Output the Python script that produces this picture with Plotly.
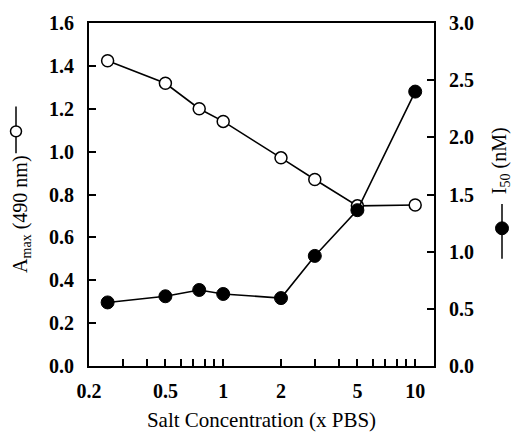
import plotly.graph_objects as go

# Data
salt = [0.25, 0.5, 0.75, 1, 2, 3, 5, 10]
amax = [1.424, 1.319, 1.20, 1.141, 0.971, 0.87, 0.747, 0.751]
i50 = [0.556, 0.61, 0.665, 0.63, 0.594, 0.963, 1.363, 2.40]

x_tickvals = [0.2, 0.3, 0.4, 0.5, 0.6, 0.7, 0.8, 0.9, 1, 2, 3, 4, 5, 6, 7, 8, 9, 10]
x_labels = {0.2: "0.2", 0.5: "0.5", 1: "1", 2: "2", 5: "5", 10: "10"}
x_ticktext = [x_labels.get(v, "") for v in x_tickvals]

W, H = 514, 445
L, R, T, B = 89, 434, 21, 366
FONT = "Liberation Serif"


def px(x):
    return (x - L) / (R - L)


def py(y):
    return (B - y) / (B - T)


fig = go.Figure()
fig.add_trace(go.Scatter(
    x=salt, y=amax, mode="lines+markers",
    line=dict(color="black", width=1.6),
    marker=dict(symbol="circle", size=12, color="white", line=dict(color="black", width=1.5)),
    yaxis="y", showlegend=False))
fig.add_trace(go.Scatter(
    x=salt, y=i50, mode="lines+markers",
    line=dict(color="black", width=1.6),
    marker=dict(symbol="circle", size=13, color="black", line=dict(color="black", width=1)),
    yaxis="y2", showlegend=False))

tickfont = dict(family=FONT, size=20, color="black", weight="bold")

fig.update_layout(
    width=W, height=H,
    margin=dict(l=L, r=W - R, t=T, b=H - B),
    paper_bgcolor="white", plot_bgcolor="white",
    font=dict(family=FONT, color="black"),
    xaxis=dict(
        type="log", range=[-0.699, 1.098],
        tickvals=x_tickvals, ticktext=x_ticktext, tickangle=0,
        ticks="inside", ticklen=7, tickwidth=1.5, tickcolor="black",
        showline=True, linecolor="black", linewidth=1.8, mirror=True,
        showgrid=False, zeroline=False, tickfont=tickfont,
        ticklabelstandoff=6,
        title=dict(text="Salt Concentration (x PBS)", font=dict(family=FONT, size=21, color="black"), standoff=11),
    ),
    yaxis=dict(
        range=[0, 1.6], tickvals=[0, 0.2, 0.4, 0.6, 0.8, 1.0, 1.2, 1.4, 1.6],
        tickformat=".1f",
        ticks="inside", ticklen=7, tickwidth=1.5, tickcolor="black",
        showline=True, linecolor="black", linewidth=1.8,
        showgrid=False, zeroline=False, tickfont=tickfont,
        ticklabelstandoff=9,
    ),
    yaxis2=dict(
        range=[0, 3.0], tickvals=[0, 0.5, 1.0, 1.5, 2.0, 2.5, 3.0],
        tickformat=".1f", overlaying="y", side="right",
        ticks="inside", ticklen=7, tickwidth=1.5, tickcolor="black",
        showline=True, linecolor="black", linewidth=1.8,
        showgrid=False, zeroline=False, tickfont=tickfont,
        ticklabelstandoff=9,
    ),
    annotations=[
        dict(text="A<sub>max</sub> (490 nm)", xref="paper", yref="paper",
             x=px(22), y=py(214), xanchor="center", yanchor="middle",
             textangle=-90, showarrow=False, font=dict(family=FONT, size=20, color="black")),
        dict(text="I<sub>50</sub> (nM)", xref="paper", yref="paper",
             x=px(500), y=py(160), xanchor="center", yanchor="middle",
             textangle=-90, showarrow=False, font=dict(family=FONT, size=20, color="black")),
    ],
    shapes=[
        dict(type="line", xref="paper", yref="paper", x0=px(16), x1=px(16), y0=py(105), y1=py(152),
             line=dict(color="black", width=1.5)),
        dict(type="circle", xref="paper", yref="paper", x0=px(10.5), x1=px(21.5), y0=py(124.5), y1=py(135.5),
             fillcolor="white", line=dict(color="black", width=1.5)),
        dict(type="line", xref="paper", yref="paper", x0=px(502), x1=px(502), y0=py(203), y1=py(258),
             line=dict(color="black", width=1.5)),
        dict(type="circle", xref="paper", yref="paper", x0=px(495.5), x1=px(508.5), y0=py(221), y1=py(234),
             fillcolor="black", line=dict(color="black", width=1)),
    ],
)

fig.write_html("out.html")
